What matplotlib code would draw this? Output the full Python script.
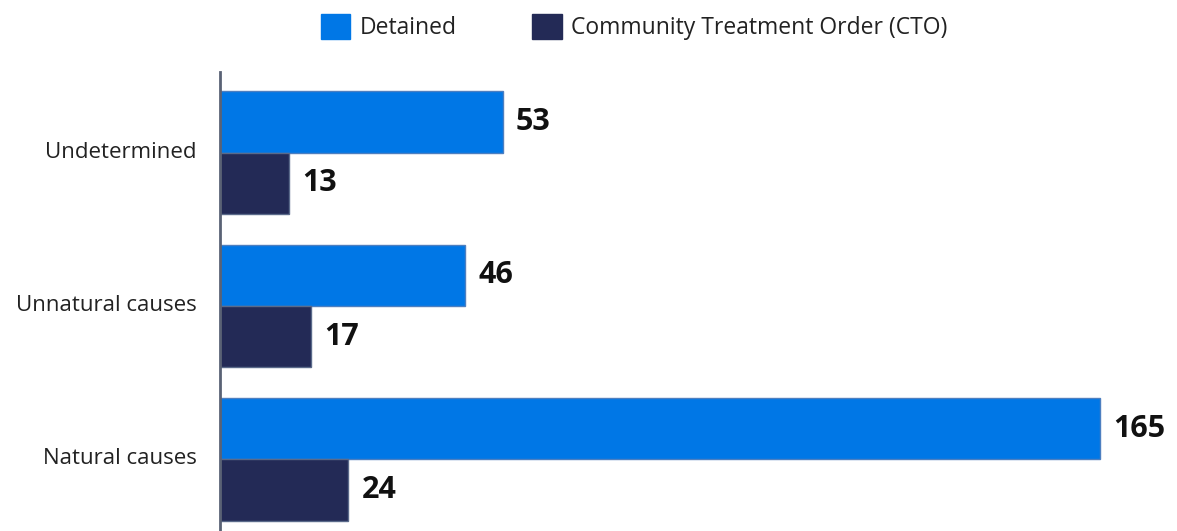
import numpy as np
import matplotlib.pyplot as plt
from matplotlib.patches import Patch

categories = ['Undetermined', 'Unnatural causes', 'Natural causes']
detained = [53, 46, 165]
cto = [13, 17, 24]
series_names = ['Detained', 'Community Treatment Order (CTO)']
colors = ['#0077e6', '#232a56']

plt.rcParams['font.family'] = ['Open Sans', 'DejaVu Sans']

fig = plt.figure(figsize=(11.77, 5.31), dpi=100)
ax = fig.add_axes([220 / 1177, 0, 1 - 220 / 1177, 1 - 72 / 531])

y = np.arange(len(categories))
h = 0.4
ax.barh(y - h / 2, detained, height=h, color=colors[0], edgecolor='#4d7fc0', linewidth=1)
ax.barh(y + h / 2, cto, height=h, color=colors[1], edgecolor='#5a6a8a', linewidth=1)

# value labels at bar ends
for i in range(len(categories)):
    ax.text(detained[i] + 2.5, y[i] - h / 2, str(detained[i]), va='center', ha='left',
            fontsize=22, fontweight='bold', color='#111111')
    ax.text(cto[i] + 2.5, y[i] + h / 2, str(cto[i]), va='center', ha='left',
            fontsize=22, fontweight='bold', color='#111111')

ax.set_xlim(0, (1177 - 220) / 5.333)
ax.set_ylim(2.467, -0.526)
ax.set_yticks(y - 0.02)
ax.set_yticklabels(categories, fontsize=16, color='#222222')
ax.tick_params(axis='y', length=0, pad=17)
ax.set_xticks([])
for s in ['top', 'right', 'bottom']:
    ax.spines[s].set_visible(False)
ax.spines['left'].set_color('#5a6275')
ax.spines['left'].set_linewidth(2)

handles = [Patch(facecolor=c, edgecolor=c) for c in colors]
fig.legend(handles, series_names, loc='center', bbox_to_anchor=(634 / 1177, 1 - 27 / 531),
           ncol=2, frameon=False, fontsize=16.5, handlelength=1.3, handleheight=1.3,
           handletextpad=0.4, columnspacing=3.3, labelcolor='#222222')

fig.savefig('out.png', dpi=100)
